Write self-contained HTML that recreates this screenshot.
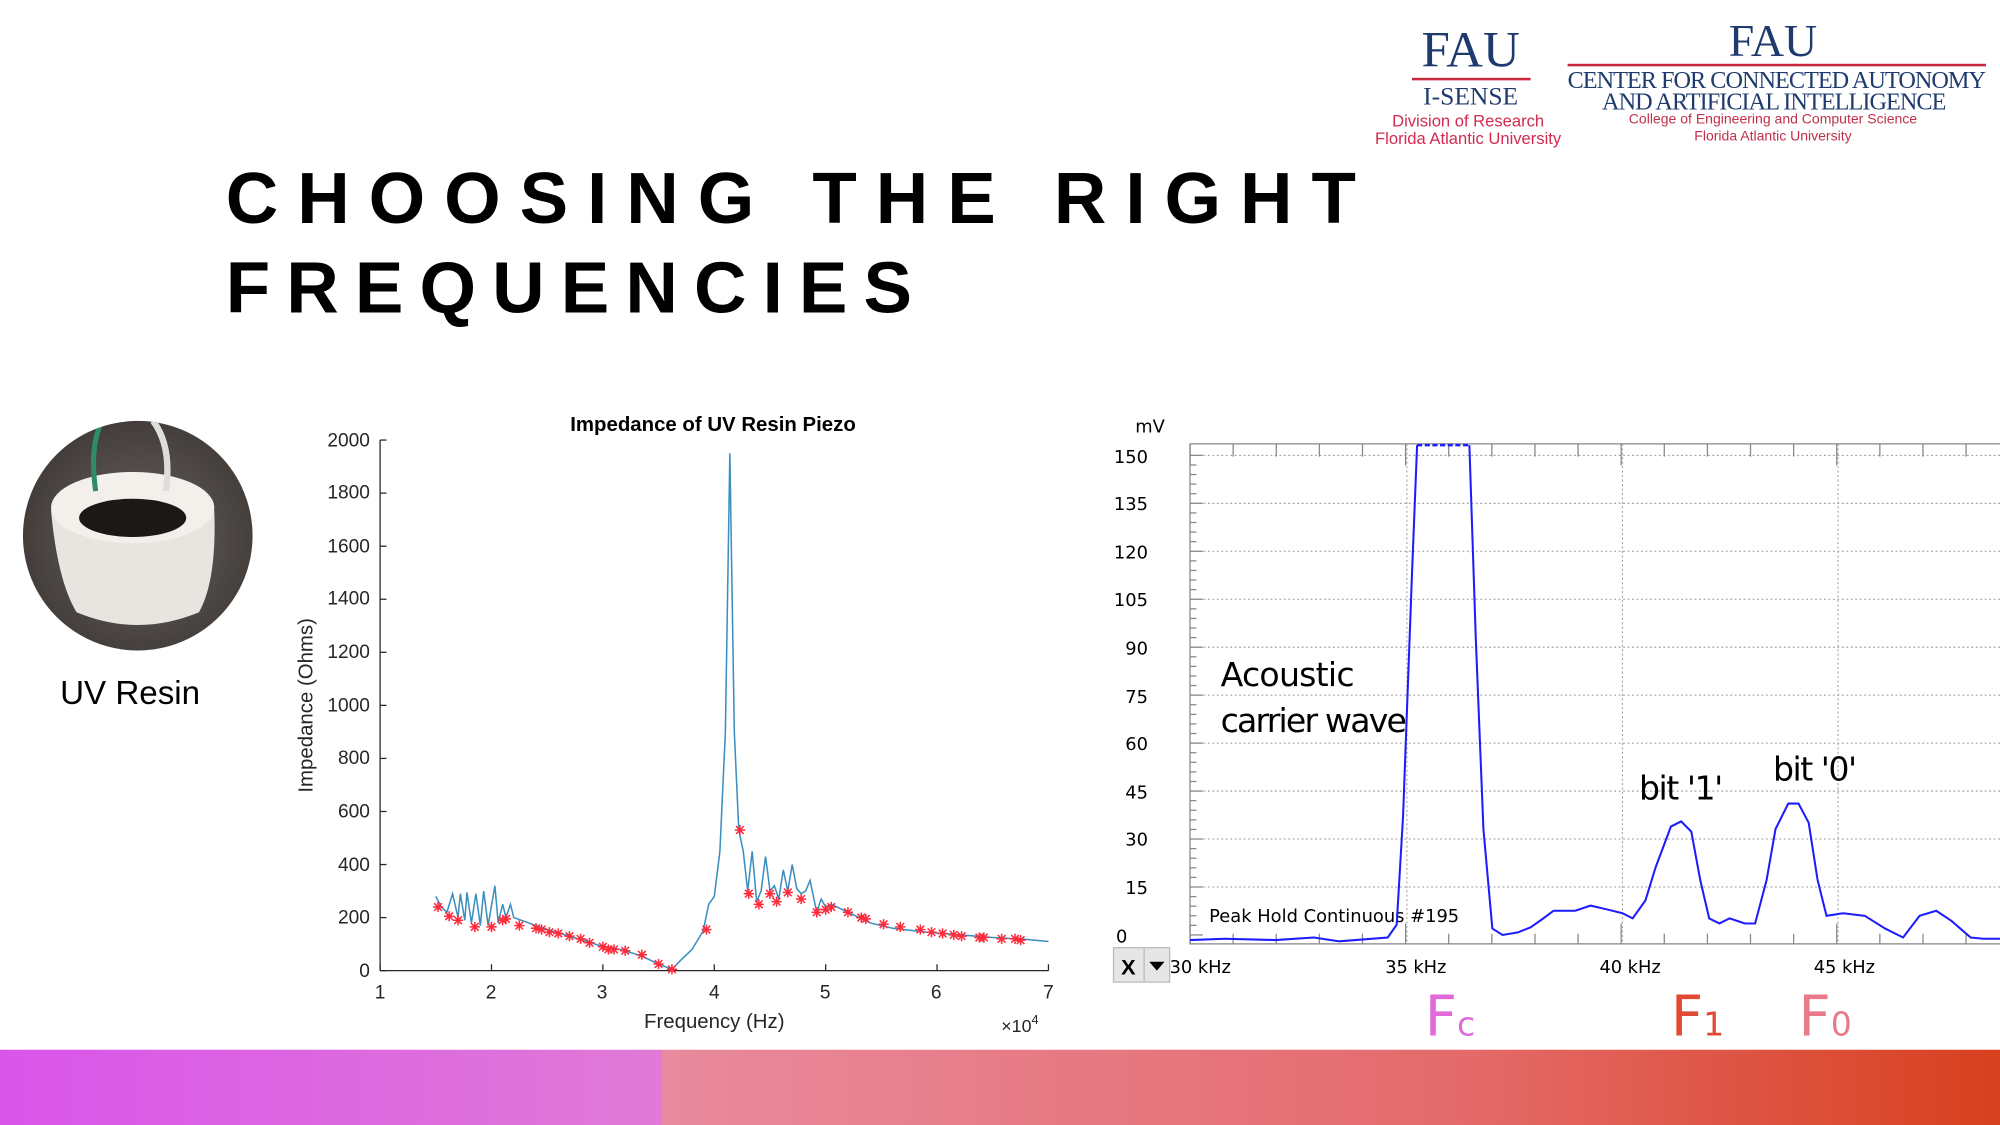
<!DOCTYPE html>
<html><head><meta charset="utf-8"><style>
html,body{margin:0;padding:0;background:#fff;}
svg{display:block}
</style></head><body>
<svg width="2000" height="1125" viewBox="0 0 1568 882" xmlns="http://www.w3.org/2000/svg" font-family="Liberation Sans, sans-serif">
<defs>
<linearGradient id="g1" x1="0" x2="1"><stop offset="0" stop-color="#d955ea"/><stop offset="1" stop-color="#e07ad6"/></linearGradient>
<linearGradient id="g2" x1="0" x2="1"><stop offset="0" stop-color="#e98a9e"/><stop offset="0.6" stop-color="#e46a6a"/><stop offset="1" stop-color="#d8401e"/></linearGradient>
<radialGradient id="bg" cx="0.5" cy="0.5" r="0.6"><stop offset="0" stop-color="#6a6460"/><stop offset="1" stop-color="#3a3532"/></radialGradient>
<clipPath id="cc"><circle cx="108" cy="420" r="90"/></clipPath>
</defs>
<rect width="1568" height="882" fill="#fff"/>

<g fill="#1f3b6e" font-family="Liberation Serif, serif">
<text x="1153" y="52" font-size="40" text-anchor="middle">FAU</text>
<rect x="1107" y="61" width="93" height="2" fill="#c8283c"/>
<text x="1153" y="82" font-size="20" text-anchor="middle">I-SENSE</text>
<text x="1151" y="99" font-size="13" fill="#d32a50" font-family="Liberation Sans, sans-serif" text-anchor="middle">Division of Research</text>
<text x="1151" y="113" font-size="13" fill="#d32a50" font-family="Liberation Sans, sans-serif" text-anchor="middle">Florida Atlantic University</text>
<text x="1390" y="44" font-size="36" text-anchor="middle">FAU</text>
<rect x="1229" y="50" width="328" height="2" fill="#c8283c"/>
<text x="1393" y="69" font-size="19" text-anchor="middle" textLength="328">CENTER FOR CONNECTED AUTONOMY</text>
<text x="1391" y="86" font-size="19" text-anchor="middle" textLength="270">AND ARTIFICIAL INTELLIGENCE</text>
<text x="1390" y="97" font-size="11" fill="#c0304a" font-family="Liberation Sans, sans-serif" text-anchor="middle">College of Engineering and Computer Science</text>
<text x="1390" y="110" font-size="11" fill="#c0304a" font-family="Liberation Sans, sans-serif" text-anchor="middle">Florida Atlantic University</text>
</g>

<text x="177" y="175" font-size="57" font-weight="bold" textLength="886" lengthAdjust="spacing" fill="#000">CHOOSING THE RIGHT</text>
<text x="177" y="245" font-size="57" font-weight="bold" textLength="538" lengthAdjust="spacing" fill="#000">FREQUENCIES</text>

<g clip-path="url(#cc)">
<rect x="15" y="328" width="190" height="190" fill="url(#bg)"/>
<path d="M40 400 Q45 455 60 480 Q108 500 156 480 Q170 455 168 400 Z" fill="#e8e4df"/>
<ellipse cx="104" cy="398" rx="64" ry="28" fill="#f3f0ec"/>
<ellipse cx="104" cy="406" rx="42" ry="15" fill="#1b1817"/>
<path d="M75 385 Q70 350 80 330" stroke="#2f8c6a" stroke-width="4" fill="none"/>
<path d="M130 385 Q135 350 120 330" stroke="#ddd" stroke-width="5" fill="none"/>
</g>
<text x="102" y="552" font-size="26" text-anchor="middle" fill="#000">UV Resin</text>

<g font-size="15" fill="#262626">
<text x="559" y="338" font-size="16" font-weight="bold" text-anchor="middle" fill="#000">Impedance of UV Resin Piezo</text>
<line x1="298" y1="345" x2="298" y2="761" stroke="#262626"/>
<line x1="298" y1="761" x2="822" y2="761" stroke="#262626"/>
<g text-anchor="end">
<text x="290" y="766">0</text><text x="290" y="724">200</text><text x="290" y="683">400</text><text x="290" y="641">600</text><text x="290" y="599">800</text><text x="290" y="558">1000</text><text x="290" y="516">1200</text><text x="290" y="474">1400</text><text x="290" y="433">1600</text><text x="290" y="391">1800</text><text x="290" y="350">2000</text>
</g>
<g text-anchor="middle">
<text x="298" y="783">1</text><text x="385" y="783">2</text><text x="472" y="783">3</text><text x="560" y="783">4</text><text x="647" y="783">5</text><text x="734" y="783">6</text><text x="822" y="783">7</text>
</g>
<text x="560" y="806" font-size="16" text-anchor="middle">Frequency (Hz)</text>
<text x="785" y="809" font-size="14">×10<tspan font-size="10" dy="-6">4</tspan></text>
<text transform="translate(245,553) rotate(-90)" font-size="16" text-anchor="middle">Impedance (Ohms)</text>
</g>
<g stroke="#262626" id="lt"></g>
<polyline fill="none" stroke="#3b8fc0" stroke-width="1.2" points="341.7,702.8 346,711.1 350.4,715.2 354.8,700.7 359.1,719.4 360.9,700.7 364.4,721.5 366.1,699.6 369.6,723.6 373.1,700.7 376.6,725.6 379.2,698.6 382.7,725.6 388,694.4 390.6,723.6 394.1,709 396.7,719.4 400.2,709 402.8,719.4 411.5,722.5 429,728.8 446.5,734 463.9,739.2 472.7,742.3 481.4,743.3 490.1,745.4 503.2,749.6 516.3,755.8 526.8,760 533.8,752.7 542.5,744.4 551.3,729.8 555.6,709 560,702.8 564.4,667.4 568.7,573.8 572.2,355.4 575.7,573.8 579.2,650.8 582.7,667.4 586.2,698.6 589.7,667.4 593.2,706.9 596.7,698.6 600.2,671.6 603.7,698.6 607.1,694.4 610.6,704.8 614.1,682 617.6,698.6 621.1,677.8 624.6,696.5 628.1,700.7 631.6,698.6 635.1,690.3 640.3,715.2 643.8,704.8 647.3,711.1 651.7,709 664.8,715.2 682.3,723.6 699.7,727.7 725.9,730.8 752.1,732.9 778.3,735 804.5,736.5 822,738.1"/>
<g id="stars" stroke="#ff2a3a" stroke-width="1.2"></g>

<g id="rg" stroke="#999" stroke-dasharray="1.5,2" stroke-width="0.8"></g>
<rect x="933" y="348" width="640" height="392" fill="none" stroke="#888" stroke-width="1"/>
<g id="rt" stroke="#888" stroke-width="1"></g>
<g font-family="DejaVu Sans, sans-serif" font-size="14" fill="#000">
<text x="890" y="339">mV</text>
<g text-anchor="end">
<text x="900" y="363">150</text><text x="900" y="400">135</text><text x="900" y="438">120</text><text x="900" y="475">105</text><text x="900" y="513">90</text><text x="900" y="551">75</text><text x="900" y="588">60</text><text x="900" y="626">45</text><text x="900" y="663">30</text><text x="900" y="701">15</text>
</g>
<text x="875" y="739">0</text>
<text x="917" y="763" textLength="48">30 kHz</text>
<text x="1086" y="763" textLength="48">35 kHz</text>
<text x="1254" y="763" textLength="48">40 kHz</text>
<text x="1422" y="763" textLength="48">45 kHz</text>
<text x="948" y="723" textLength="196">Peak Hold Continuous #195</text>
</g>
<rect x="873" y="743" width="44" height="27" fill="#e6e6e6" stroke="#bbb"/>
<line x1="897" y1="744" x2="897" y2="769" stroke="#bbb"/>
<text x="879" y="764" font-size="17" font-weight="bold">X</text>
<path d="M901 754 L913 754 L907 761 Z" fill="#000"/>
<polyline fill="none" stroke="#1c1cff" stroke-width="1.6" points="933,737 960,736 1000,737 1030,735 1050,738 1088,735 1095,725 1100,640 1107,450 1111,349"/>
<line x1="1111" y1="349" x2="1152" y2="349" stroke="#1c1cff" stroke-width="2" stroke-dasharray="4,2"/>
<polyline fill="none" stroke="#1c1cff" stroke-width="1.6" points="1152,349 1157,500 1163,650 1170,728 1178,733 1190,731 1200,727 1210,720 1218,714 1235,714 1247,710 1260,713 1272,716 1280,720 1290,706 1298,680 1310,648 1318,644 1326,652 1333,690 1340,720 1348,724 1356,720 1368,724 1376,724 1385,690 1392,650 1402,630 1410,630 1418,645 1425,690 1432,718 1445,716 1462,718 1478,728 1492,735 1505,718 1518,714 1530,722 1545,735 1555,736 1568,736"/>
<g font-size="26" fill="#000" font-family="DejaVu Sans, sans-serif">
<text x="957" y="538" textLength="105">Acoustic</text>
<text x="957" y="574" textLength="146">carrier wave</text>
<text x="1285" y="627" textLength="66">bit '1'</text>
<text x="1390" y="612" textLength="66">bit '0'</text>
</g>
<g font-size="44" font-family="DejaVu Sans, sans-serif">
<text x="1117" y="812" fill="#e06ad8">F<tspan font-size="26">c</tspan></text>
<text x="1310" y="812" fill="#e04a34">F<tspan font-size="26">1</tspan></text>
<text x="1410" y="812" fill="#e87a8a">F<tspan font-size="26">0</tspan></text>
</g>

<rect x="0" y="823" width="519" height="59" fill="url(#g1)"/>
<rect x="519" y="823" width="1049" height="59" fill="url(#g2)"/>
<script>
var ns="http://www.w3.org/2000/svg";
function L(g,a,b,c,d){var l=document.createElementNS(ns,"line");l.setAttribute("x1",a);l.setAttribute("y1",b);l.setAttribute("x2",c);l.setAttribute("y2",d);g.appendChild(l);}
var lt=document.getElementById("lt");
for(var i=0;i<=10;i++){var y=761-i*41.6;L(lt,298,y,303,y);}
for(var i=0;i<=6;i++){var x=298+i*87.33;L(lt,x,761,x,756);}
var st=document.getElementById("stars");
var S=[[1.52,240],[1.62,205],[1.7,190],[1.85,165],[2.0,165],[2.1,190],[2.13,195],[2.25,170],[2.4,160],[2.45,155],[2.52,145],[2.6,140],[2.7,130],[2.8,120],[2.88,105],[3.0,90],[3.05,80],[3.1,80],[3.2,75],[3.35,60],[3.5,25],[3.62,5],[3.93,155],[4.23,530],[4.31,290],[4.4,250],[4.5,290],[4.56,260],[4.66,295],[4.78,270],[4.92,220],[5.0,230],[5.05,240],[5.2,220],[5.32,200],[5.36,195],[5.52,175],[5.67,165],[5.85,155],[5.95,145],[6.05,140],[6.15,135],[6.22,130],[6.38,125],[6.42,125],[6.58,120],[6.7,120],[6.75,115]];
S.forEach(function(p){var x=298+(p[0]-1)*87.33,y=761-p[1]*0.208,r=4;L(st,x-r,y,x+r,y);L(st,x,y-r,x,y+r);L(st,x-3,y-3,x+3,y+3);L(st,x-3,y+3,x+3,y-3);});
var rg=document.getElementById("rg");
for(var i=1;i<10;i++){var y=357+i*37.6;L(rg,933,y,1568,y);}
L(rg,933,357,1568,357);
[1103,1272,1441].forEach(function(x){L(rg,x,348,x,740);});
var rt=document.getElementById("rt");
for(var i=0;i<20;i++){var x=933+i*33.8;var big=i%5==0;L(rt,x,348,x,big?365:358);L(rt,x,740,x,big?724:732);}
for(var i=0;i<=50;i++){var y=357+i*7.52;L(rt,933,y,i%5==0?943:938,y);}
</script>
</svg>
</body></html>
